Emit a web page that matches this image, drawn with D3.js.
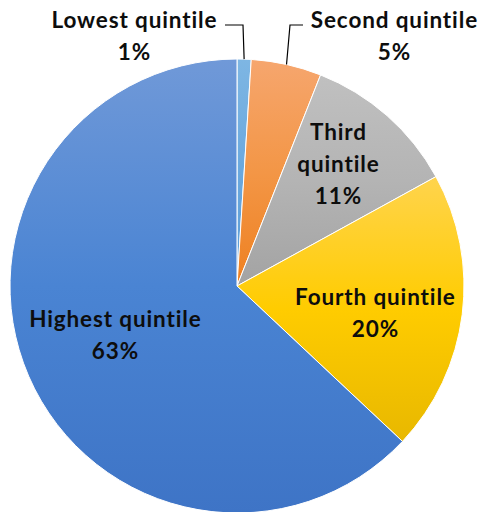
<!DOCTYPE html>
<html>
<head>
<meta charset="utf-8">
<script src="https://cdn.jsdelivr.net/npm/d3@7"></script>
<style>
  html, body { margin: 0; padding: 0; background: #fff; }
  svg { display: block; }
  text { font-family: Lato, "Open Sans", sans-serif; font-weight: 700; fill: #0d0d0d; }
</style>
</head>
<body>
<svg id="chart" width="485" height="512"></svg>
<script>
// Share of total by income quintile
const categories = ["Lowest quintile", "Second quintile", "Third quintile", "Fourth quintile", "Highest quintile"];
const shares = [1, 5, 11, 20, 63];
const shareLabels = ["1%", "5%", "11%", "20%", "63%"];

// Slice fills: light / base / dark stops of a vertical gradient
const colorsTop = ["#7EB6E3", "#F6A66E", "#C0C0C0", "#FFD44D", "#7099D8"];
const colorsMid = ["#6AA8DE", "#F39646", "#B4B4B4", "#FFCC00", "#4A84D3"];
const colorsBottom = ["#5B9BD5", "#EE8020", "#A3A3A3", "#E8B800", "#3E74C6"];

// Label text lines and anchor points (first baseline)
const labelLines = [
  ["Lowest quintile", "1%"],
  ["Second quintile", "5%"],
  ["Third", "quintile", "11%"],
  ["Fourth quintile", "20%"],
  ["Highest quintile", "63%"]
];
const labelPos = [[134, 28], [394, 28], [338, 140], [375, 305], [115, 327]];
const lineHeight = 32;

const svg = d3.select("#chart");
const cx = 237, cy = 286, r = 227;

const defs = svg.append("defs");
categories.forEach((c, i) => {
  const g = defs.append("linearGradient")
    .attr("id", "grad" + i)
    .attr("x1", 0).attr("x2", 0)
    .attr("y1", 0).attr("y2", 1);
  g.append("stop").attr("offset", "0%").attr("stop-color", colorsTop[i]);
  g.append("stop").attr("offset", "50%").attr("stop-color", colorsMid[i]);
  g.append("stop").attr("offset", "100%").attr("stop-color", colorsBottom[i]);
});

const pie = d3.pie().sort(null).value(d => d);
const arcs = pie(shares);
const arc = d3.arc().innerRadius(0).outerRadius(r);

svg.append("g")
  .attr("transform", `translate(${cx},${cy})`)
  .selectAll("path")
  .data(arcs)
  .join("path")
  .attr("d", arc)
  .attr("fill", (d, i) => `url(#grad${i})`)
  .attr("stroke", "#fff")
  .attr("stroke-width", 1);

// Leader lines for the two thin slices: from a label-side start, across, then to the arc midpoint
const edgePoint = d => {
  const a = (d.startAngle + d.endAngle) / 2;
  return [cx + r * Math.sin(a), cy - r * Math.cos(a)];
};
const leaders = [
  { slice: 0, startX: 225, bendX: 243, y: 25 },
  { slice: 1, startX: 303, bendX: 290, y: 25 }
];
leaders.forEach(l => {
  const [ex, ey] = edgePoint(arcs[l.slice]);
  svg.append("path")
    .attr("d", `M${l.startX},${l.y} L${l.bendX},${l.y} L${ex},${ey}`)
    .attr("fill", "none")
    .attr("stroke", "#000")
    .attr("stroke-width", 1.2);
});

// Category labels with percentages; spacing fitted so the widest label spans ~172px
const fontSize = 22.5;
const probe = svg.append("text").attr("font-size", fontSize).text("Highest quintile");
const spacing = Math.max(0, (172 - probe.node().getComputedTextLength()) / 15);
probe.remove();

labelLines.forEach((lines, i) => {
  const t = svg.append("text")
    .attr("text-anchor", "middle")
    .attr("font-size", fontSize)
    .attr("letter-spacing", spacing);
  lines.forEach((s, j) => {
    t.append("tspan")
      .attr("x", labelPos[i][0] + spacing / 2)
      .attr("y", labelPos[i][1] + j * lineHeight)
      .text(s);
  });
});
</script>
</body>
</html>
